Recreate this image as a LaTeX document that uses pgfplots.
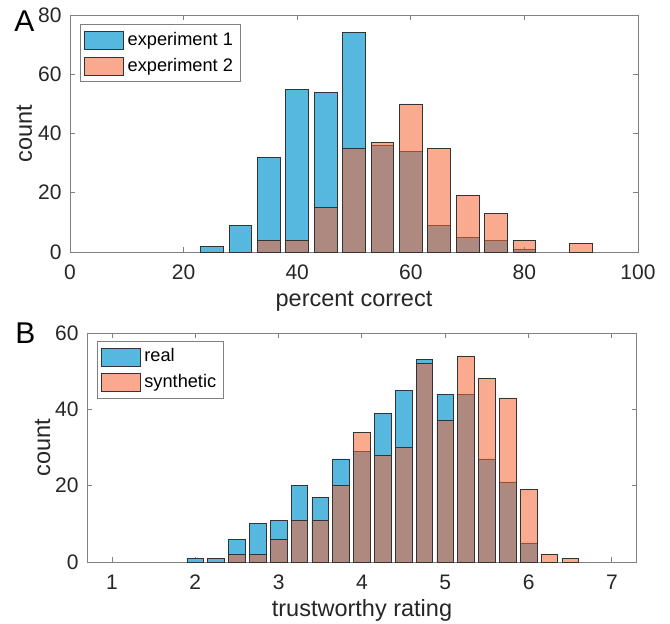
\documentclass[border=0pt]{standalone}
\usepackage{fontspec}
\setmainfont{Liberation Sans}
\usepackage{pgfplots}
\pgfplotsset{compat=1.18}

\definecolor{expblue}{RGB}{86,184,223}
\definecolor{exppeach}{RGB}{246,100,50}
\definecolor{boxgray}{RGB}{128,128,128}

\pgfplotsset{
  histstyle/.style={
    scale only axis,
    ybar,
    axis line style={boxgray, line width=0.5pt},
    tick style={boxgray, line width=0.5pt},
    major tick length=2.5pt,
    tick align=inside,
    ymin=0,
    /pgf/number format/assume math mode=true,
    tick label style={font=\fontsize{10.5}{12}\selectfont, text=black!85},
    xticklabel style={anchor=base, yshift=-13.5pt, inner sep=0pt},
    yticklabel style={anchor=east, inner sep=0pt, xshift=-4pt},
    label style={font=\fontsize{11.75}{14}\selectfont, text=black!85},
    xlabel style={at={(axis description cs:0.5,0)}, anchor=base, yshift=-27pt, inner sep=0pt},
    legend image code/.code={\draw[##1] (0pt,-4.5pt) rectangle (19.5pt,4.5pt);},
    legend style={anchor=north west, draw=boxgray, line width=0.4pt, fill=white,
      font=\fontsize{9.1}{11}\selectfont, inner xsep=2pt, inner ysep=2pt,
      row sep=1.2pt, nodes={inner sep=1.8pt}, cells={anchor=west}},
  },
  bluebar/.style={fill=expblue, draw=black!80, line width=0.35pt, bar shift=0pt},
  peachbar/.style={fill=exppeach, fill opacity=0.55, draw=black!80, line width=0.35pt, bar shift=0pt},
}

\begin{document}
\begin{tikzpicture}
\useasboundingbox (0,0) rectangle (335pt,-311.5pt);

% panel A
\begin{axis}[histstyle, name=pa,
  at={(35pt,-126pt)}, anchor=south west,
  width=284pt, height=118.5pt,
  xmin=0, xmax=100, ymax=80,
  xtick={0,20,...,100}, ytick={0,20,...,80},
  bar width=4,
  xlabel={percent correct},
  legend style={at={(0.0176,0.962)}},
]
\addplot[bluebar] coordinates {(25,2) (30,9) (35,32) (40,55) (45,54) (50,74) (55,36) (60,34) (65,9) (70,5) (75,4) (80,1)};
\addplot[peachbar] coordinates {(35,4) (40,4) (45,15) (50,35) (55,37) (60,50) (65,35) (70,19) (75,13) (80,4) (90,3)};
\legend{experiment 1, experiment 2}
\end{axis}

% panel B
\begin{axis}[histstyle, name=pb,
  at={(43.5pt,-281pt)}, anchor=south west,
  width=275pt, height=114.5pt,
  xmin=0.7, xmax=7.3, ymax=60,
  xtick={1,...,7}, ytick={0,20,...,60},
  bar width=0.2,
  xlabel={trustworthy rating},
  legend style={at={(0.0176,0.966)}},
]
\addplot[bluebar] coordinates {(2,1) (2.25,1) (2.5,6) (2.75,10) (3,11) (3.25,20) (3.5,17) (3.75,27) (4,29) (4.25,39) (4.5,45) (4.75,53) (5,44) (5.25,44) (5.5,27) (5.75,21) (6,5)};
\addplot[peachbar] coordinates {(2.5,2) (2.75,2) (3,6) (3.25,11) (3.5,11) (3.75,20) (4,34) (4.25,28) (4.5,30) (4.75,52) (5,37) (5.25,54) (5.5,48) (5.75,43) (6,19) (6.25,2) (6.5,1)};
\legend{real, synthetic}
\end{axis}

% y labels
\node[rotate=90, anchor=base, inner sep=0pt, font=\fontsize{11.75}{14}\selectfont, text=black!85]
  at ([xshift=-19pt]pa.west) {count};
\node[rotate=90, anchor=base, inner sep=0pt, font=\fontsize{11.75}{14}\selectfont, text=black!85]
  at ([xshift=-18.5pt]pb.west) {count};

\node[anchor=base west, inner sep=0pt, font=\fontsize{15}{18}\selectfont] at (7pt,-15.85pt) {A};
\node[anchor=base west, inner sep=0pt, font=\fontsize{15}{18}\selectfont] at (7.5pt,-171.5pt) {B};
\end{tikzpicture}
\end{document}
